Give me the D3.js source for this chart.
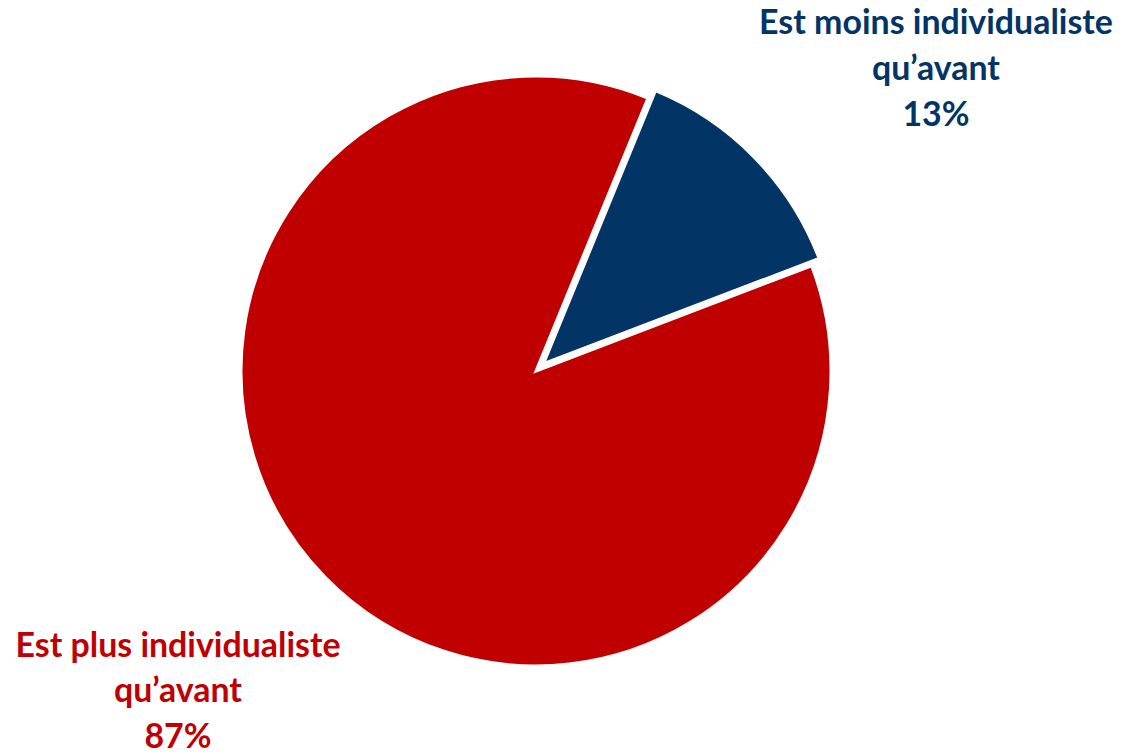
<!DOCTYPE html>
<html>
<head>
<meta charset="utf-8">
<script src="https://cdn.jsdelivr.net/npm/d3@7"></script>
<style>
  html, body { margin: 0; padding: 0; background: #ffffff; }
  svg { display: block; }
</style>
</head>
<body>
<svg id="chart" width="1128" height="754"></svg>
<script>
// Data
const categories = ["Est moins individualiste qu’avant", "Est plus individualiste qu’avant"];
const values = [13, 87];
const labelLines = [
  ["Est moins individualiste", "qu’avant", "13%"],
  ["Est plus individualiste", "qu’avant", "87%"]
];
const colors = ["#033466", "#C00000"];

const svg = d3.select("#chart");
const cx = 536, cy = 371, radius = 295;
const startDeg = 22.3;
const explode = [10.5, 0];

const pie = d3.pie().sort(null)
  .startAngle(startDeg * Math.PI / 180)
  .endAngle((startDeg + 360) * Math.PI / 180)
  .value(d => d);
const arcs = pie(values);
const arc = d3.arc().innerRadius(0).outerRadius(radius);

const g = svg.append("g").attr("transform", `translate(${cx},${cy})`);

// draw red (big) first, blue on top
const order = [1, 0];
order.forEach(i => {
  const a = arcs[i];
  const mid = (a.startAngle + a.endAngle) / 2;
  const dx = Math.sin(mid) * explode[i];
  const dy = -Math.cos(mid) * explode[i];
  g.append("path")
    .attr("d", arc(a))
    .attr("transform", `translate(${dx},${dy})`)
    .attr("fill", colors[i])
    .attr("stroke", "#ffffff")
    .attr("stroke-width", 3)
    .attr("stroke-linejoin", "miter");
});

// Labels
const labelPos = [
  { x: 936, y: 34.3 },
  { x: 178, y: 656.5 }
];
const lineGap = 45.6;
const fontFamily = "Lato, 'Open Sans', sans-serif";

// fit font size so that the first line of the blue label spans ~354px
const probe = svg.append("text")
  .attr("font-family", fontFamily).attr("font-weight", 700)
  .attr("font-size", 36).text(labelLines[0][0]);
const w = probe.node().getComputedTextLength();
probe.remove();
const fontSize = w > 0 ? 36 * 354 / w : 34;

labelLines.forEach((lines, i) => {
  const t = svg.append("text")
    .attr("text-anchor", "middle")
    .attr("font-family", fontFamily)
    .attr("font-weight", 700)
    .attr("font-size", fontSize)
    .attr("fill", colors[i]);
  lines.forEach((ln, j) => {
    t.append("tspan")
      .attr("x", labelPos[i].x)
      .attr("y", labelPos[i].y + j * lineGap)
      .text(ln);
  });
});
</script>
</body>
</html>
